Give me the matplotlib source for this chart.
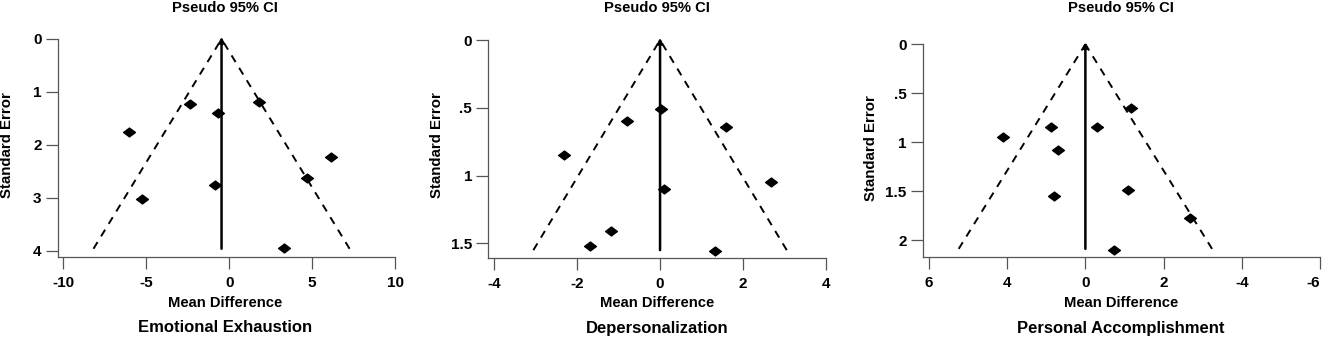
import matplotlib
matplotlib.use("Agg")
import matplotlib.pyplot as plt
from matplotlib.path import Path

plt.rcParams["font.family"] = ["Liberation Sans", "DejaVu Sans"]
plt.rcParams["font.weight"] = "bold"

# --- data (mean difference, standard error) ---
ee_md = [-2.37, -0.70, 1.77, -6.03, 6.17, 4.70, -0.86, -5.25, 3.30]
ee_se = [1.22, 1.39, 1.18, 1.76, 2.22, 2.62, 2.76, 3.02, 3.94]
ee_pooled = -0.46
ee_se_max = 3.96

dp_md = [0.02, -0.80, 1.59, -2.31, 2.67, 0.10, -1.18, -1.70, 1.33]
dp_se = [0.51, 0.60, 0.64, 0.85, 1.05, 1.10, 1.41, 1.52, 1.56]
dp_pooled = 0.0
dp_se_max = 1.55

pa_md = [-1.17, 0.89, -0.31, 2.10, 0.70, -1.09, 0.80, -2.68, -0.73]
pa_se = [0.65, 0.84, 0.84, 0.95, 1.08, 1.49, 1.55, 1.77, 2.10]
pa_pooled = 0.0
pa_se_max = 2.09

# ticks / labels as printed in the source figure
ee_xticks = [-10, -5, 0, 5, 10]
ee_xlabels = ["-10", "-5", "0", "5", "10"]
ee_yticks = [0, 1, 2, 3, 4]
ee_ylabels = ["0", "1", "2", "3", "4"]

dp_xticks = [-4, -2, 0, 2, 4]
dp_xlabels = ["-4", "-2", "0", "2", "4"]
dp_yticks = [0, 0.5, 1, 1.5]
dp_ylabels = ["0", ".5", "1", "1.5"]

pa_xticks = [4, 2, 0, -2, -4, -6]
pa_xlabels = ["6", "4", "0", "2", "-4", "-6"]
pa_yticks = [0, 0.5, 1, 1.5, 2]
pa_ylabels = ["0", ".5", "1", "1.5", "2"]

subtitles = ["Emotional Exhaustion", "Depersonalization", "Personal Accomplishment"]

W, H = 1325, 338
fig = plt.figure(figsize=(W / 100, H / 100), dpi=100)

diamond = Path([(-1, 0), (0, 0.75), (1, 0), (0, -0.75), (-1, 0)],
               [Path.MOVETO, Path.LINETO, Path.LINETO, Path.LINETO, Path.CLOSEPOLY])


def px_axes(left, top, right, bottom):
    return fig.add_axes([left / W, 1 - bottom / H, (right - left) / W, (bottom - top) / H])


def funnel(ax, md, se, pooled, se_max, k, xlim, ylim_bottom, xticks, xlabels, yticks, ylabels):
    ax.set_xlim(*xlim)
    ax.set_ylim(ylim_bottom, 0)
    for s in ("top", "right"):
        ax.spines[s].set_visible(False)
    for s in ("left", "bottom"):
        ax.spines[s].set_color("#555555")
        ax.spines[s].set_linewidth(0.9)
    ax.tick_params(colors="#555555", length=8.6, width=0.9, labelcolor="black", labelsize=11)
    ax.tick_params(axis="y", pad=3)
    ax.tick_params(axis="x", pad=5)
    ax.set_xticks(xticks)
    ax.set_xticklabels(xlabels, fontweight="bold")
    ax.set_yticks(yticks)
    ax.set_yticklabels(ylabels, fontweight="bold")

    # pseudo 95% CI limits
    ax.plot([pooled - k * se_max, pooled], [se_max, 0], ls=(0, (4, 3.5)), color="black", lw=1.4, clip_on=False)
    ax.plot([pooled + k * se_max, pooled], [se_max, 0], ls=(0, (4, 3.5)), color="black", lw=1.4, clip_on=False)
    # pooled estimate line with arrow
    ax.annotate("", xy=(pooled, -0.01 * ylim_bottom), xytext=(pooled, se_max),
                arrowprops=dict(arrowstyle="-|>", color="black", lw=1.8,
                                mutation_scale=7, shrinkA=0, shrinkB=0),
                annotation_clip=False)
    ax.plot(md, se, ls="none", marker=diamond, markersize=8.5, color="black", clip_on=False, zorder=5)


ax1 = px_axes(57.7, 39, 395, 256.7)
funnel(ax1, ee_md, ee_se, ee_pooled, ee_se_max, 1.95, (-10.34, 10), 4.11,
       ee_xticks, ee_xlabels, ee_yticks, ee_ylabels)

ax2 = px_axes(488.3, 40, 826, 257.7)
funnel(ax2, dp_md, dp_se, dp_pooled, dp_se_max, 1.97, (-4.14, 4), 1.606,
       dp_xticks, dp_xlabels, dp_yticks, dp_ylabels)

ax3 = px_axes(922.7, 44.3, 1320, 256.7)
funnel(ax3, pa_md, pa_se, pa_pooled, pa_se_max, 1.55, (4.16, -6), 2.17,
       pa_xticks, pa_xlabels, pa_yticks, pa_ylabels)
# keep the last label inside the figure edge, as in the source
ax3.get_xticklabels()[-1].set_horizontalalignment("right")

centers = [225, 657, 1121]
ylab_x = [7, 437, 871]
ylab_y = [145, 145, 148]
for cx, yx, yy, sub in zip(centers, ylab_x, ylab_y, subtitles):
    fig.text(cx / W, 1 - 8 / H, "Pseudo 95% CI", ha="center", va="center", fontsize=10.6, fontweight="bold")
    fig.text(cx / W, 1 - 303 / H, "Mean Difference", ha="center", va="center", fontsize=10.6, fontweight="bold")
    fig.text(cx / W, 1 - 328 / H, sub, ha="center", va="center", fontsize=12, fontweight="bold")
    fig.text(yx / W, 1 - yy / H, "Standard Error", ha="center", va="center", rotation=90,
             fontsize=10.8, fontweight="bold")

fig.savefig("out.png", dpi=100)
